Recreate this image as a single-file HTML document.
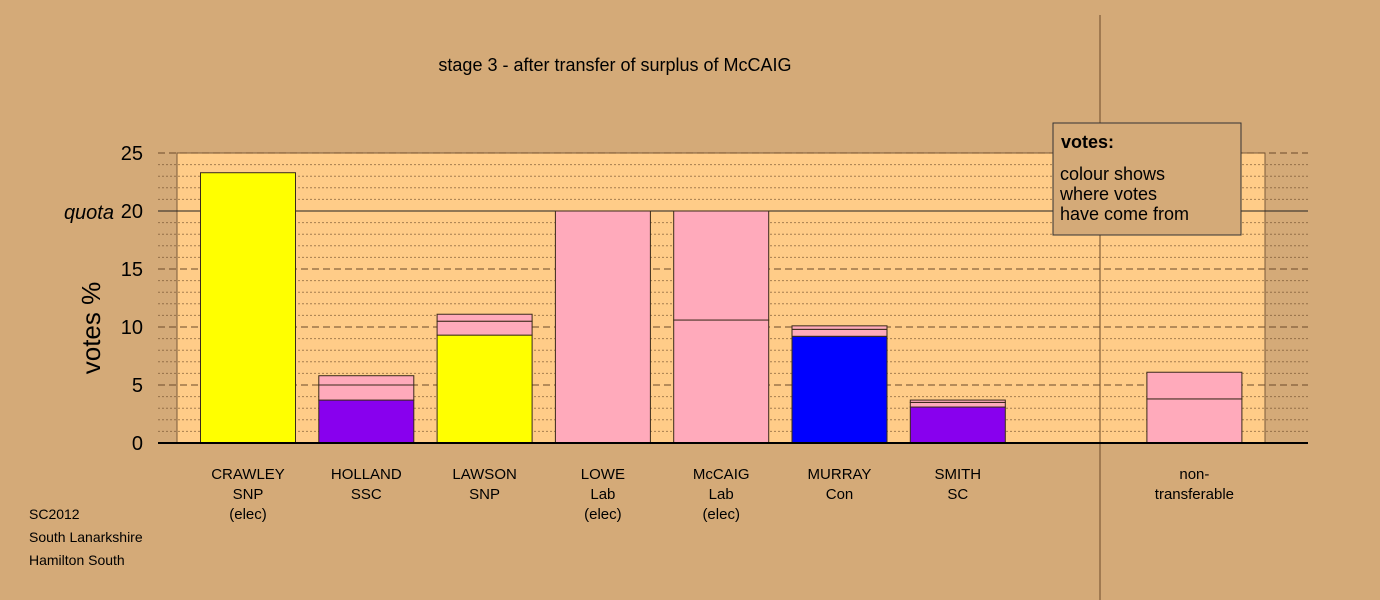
<!DOCTYPE html>
<html><head><meta charset="utf-8"><style>
body{margin:0;background:#d4aa78;}
svg{display:block;font-family:"Liberation Sans",sans-serif;}
</style></head><body>
<svg id="chart" width="1380" height="600" viewBox="0 0 1380 600">
<rect x="0" y="0" width="1380" height="600" fill="#d4aa78"/>
<rect x="177" y="153" width="1088" height="290" fill="#ffcc88" stroke="#7a5a3a" stroke-width="1"/>
<g id="grid"></g>
<g id="bars"></g>
<line x1="1100" y1="15" x2="1100" y2="600" stroke="#6b4a2a" stroke-width="1"/>
<g id="axis"></g>
<text x="615" y="71" font-size="18" text-anchor="middle" fill="#000">stage 3 - after transfer of surplus of McCAIG</text>
<text transform="translate(100,328) rotate(-90)" font-size="26" text-anchor="middle">votes %</text>
<text x="114" y="219" font-size="20" font-style="italic" text-anchor="end">quota</text>
<g id="xlabels"></g>
<g>
<rect x="1053" y="123" width="188" height="112" fill="#d4aa78" stroke="#333" stroke-width="1"/>
<text x="1061" y="148" font-size="18" font-weight="bold">votes:</text>
<text x="1060" y="180" font-size="18">colour shows</text>
<text x="1060" y="200" font-size="18">where votes</text>
<text x="1060" y="220" font-size="18">have come from</text>
</g>
<g font-size="14">
<text x="29" y="519">SC2012</text>
<text x="29" y="542">South Lanarkshire</text>
<text x="29" y="565">Hamilton South</text>
</g>
</svg>
<script>
const categories=["CRAWLEY","HOLLAND","LAWSON","LOWE","McCAIG","MURRAY","SMITH","","non-"];
const subLabels=[["SNP","(elec)"],["SSC"],["SNP"],["Lab","(elec)"],["Lab","(elec)"],["Con"],["SC"],[],["transferable"]];
const seriesFirst=[23.3,3.7,9.3,0,10.6,9.2,3.1,0,3.8];
const seriesSecond=[0,1.3,1.2,20,9.4,0.6,0.4,0,2.3];
const seriesThird=[0,0.8,0.6,0,0,0.3,0.2,0,0];
const firstColors=["#ffff00","#8800ee","#ffff00","#ffaabb","#ffaabb","#0000ff","#8800ee","#ffaabb","#ffaabb"];
const yTicks=[0,5,10,15,20,25];
const yMax=25;

const NS="http://www.w3.org/2000/svg";
const y0=443,yTop=153;
function yS(v){return y0-(v/yMax)*(y0-yTop);}
function xC(i){return 248+i*118.3;}
const bw=95;
function mk(tag,attrs,parent){const e=document.createElementNS(NS,tag);for(const k in attrs)e.setAttribute(k,attrs[k]);parent.appendChild(e);return e;}
const grid=document.getElementById('grid');
for(let v=1;v<=yMax;v++){
  const l=mk('line',{x1:158,x2:1308,y1:yS(v),y2:yS(v),stroke:'#6b4a2a','stroke-width':1},grid);
  
  
  if(v===20){l.setAttribute('stroke','#222');}
  else if(v%5===0){l.setAttribute('stroke-dasharray','7,4');}
  else{l.setAttribute('stroke-dasharray','2,2');l.setAttribute('stroke-opacity','0.6');}
}
const bars=document.getElementById('bars');
categories.forEach((c,i)=>{
  let base=0;
  [[seriesFirst,firstColors[i]],[seriesSecond,'#ffaabb'],[seriesThird,'#ffaabb']].forEach(([arr,col])=>{
    const v=arr[i];if(!v)return;
    const r=mk('rect',{x:xC(i)-bw/2,y:yS(base+v),width:bw,height:yS(base)-yS(base+v),fill:col,stroke:'#3a2a1a','stroke-width':1},bars);
    
    
    base+=v;
  });
});
const axis=document.getElementById('axis');
const base=mk('line',{x1:158,x2:1308,y1:y0,y2:y0,stroke:'#000','stroke-width':2},axis);


yTicks.forEach(t=>{
  const tx=mk('text',{x:143,y:yS(t)+7,'font-size':20,'text-anchor':'end'},axis);
  tx.textContent=t;
  
  
});
const xl=document.getElementById('xlabels');
categories.forEach((c,i)=>{
  const lines=[c].concat(subLabels[i]).filter(s=>s);
  lines.forEach((s,j)=>{
    const t=mk('text',{x:xC(i),y:479+j*20,'font-size':15,'text-anchor':'middle'},xl);
    t.textContent=s;
    
    
  });
});
</script>
</body></html>
